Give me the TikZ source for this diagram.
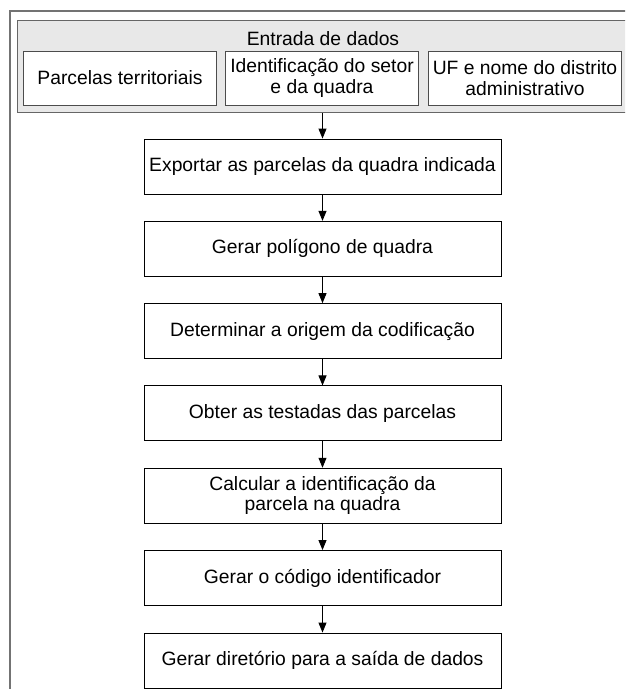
\documentclass[tikz,border=0pt]{standalone}
\usepackage{fontspec}
\setmainfont{Liberation Sans}
\usetikzlibrary{arrows.meta}
\begin{document}
\begin{tikzpicture}[x=1pt,y=-1pt,
  txt/.style={font=\fontsize{19.3}{20.5}\selectfont},
  flowbox/.style={txt, draw=black, line width=0.9pt, fill=white, minimum width=357pt, minimum height=55pt, inner sep=0pt, align=center},
  inbox/.style={txt, draw=black!70, line width=0.9pt, fill=white, minimum width=193pt, minimum height=54pt, inner sep=0pt, align=center},
  groupbox/.style={draw=black!60, fill=black!9, line width=1.3pt, minimum width=640pt, minimum height=92pt, inner sep=0pt, anchor=north west},
  conn/.style={draw=black, line width=0.9pt, -{Triangle[length=10pt,width=8pt]}}]
\useasboundingbox (0,0) rectangle (625,689);
\clip (0,0) rectangle (625,689);
% outer frame (cut by the page)
\draw[black!55, line width=1.1pt] (10,700) -- (10,11) -- (640,11);
% input group
\node[groupbox] (entrada) at (17,20) {};
\node[txt] (titulo) at (323,39) {Entrada de dados};
\node[inbox] (parcelas) at (120,78) {Parcelas territoriais};
\node[inbox] (setor) at (322,78) {Identificação do setor\\e da quadra};
\node[inbox] (uf) at (525,78) {UF e nome do distrito\\administrativo};
% flow
\node[flowbox] (exportar) at (322.5,166.5) {Exportar as parcelas da quadra indicada};
\node[flowbox] (poligono) at (322.5,248.8) {Gerar polígono de quadra};
\node[flowbox] (origem) at (322.5,331.1) {Determinar a origem da codificação};
\node[flowbox] (testadas) at (322.5,413.4) {Obter as testadas das parcelas};
\node[flowbox] (calcular) at (322.5,495.7) {Calcular a identificação da\\parcela na quadra};
\node[flowbox] (codigo) at (322.5,578) {Gerar o código identificador};
\node[flowbox] (diretorio) at (322.5,660.5) {Gerar diretório para a saída de dados};
% connectors
\draw[conn] (entrada.south -| exportar.north) -- (exportar.north);
\draw[conn] (exportar) -- (poligono);
\draw[conn] (poligono) -- (origem);
\draw[conn] (origem) -- (testadas);
\draw[conn] (testadas) -- (calcular);
\draw[conn] (calcular) -- (codigo);
\draw[conn] (codigo) -- (diretorio);
\end{tikzpicture}
\end{document}
